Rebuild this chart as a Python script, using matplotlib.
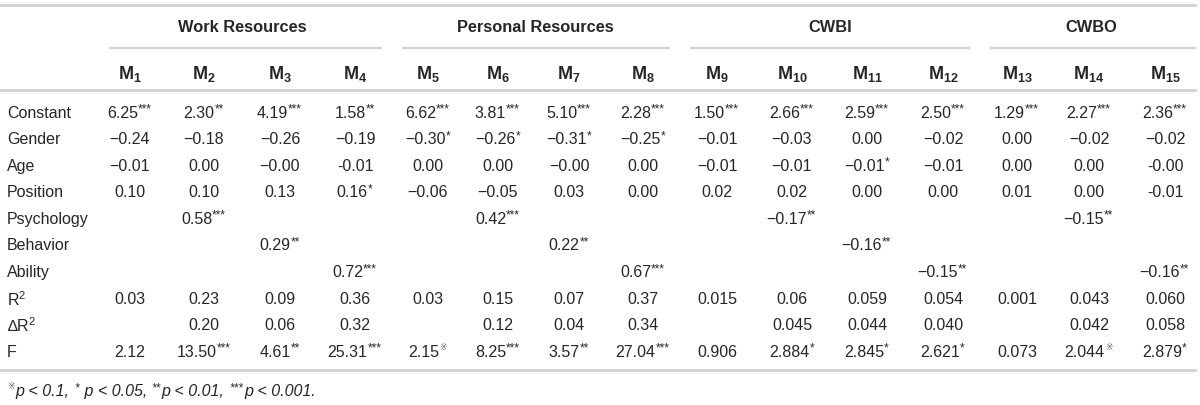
import matplotlib
matplotlib.use("Agg")
import matplotlib.pyplot as plt

plt.rcParams['font.family'] = ['Liberation Sans', 'DejaVu Sans']
plt.rcParams['mathtext.fontset'] = 'custom'
plt.rcParams['mathtext.rm'] = 'Liberation Sans'
plt.rcParams['mathtext.bf'] = 'Liberation Sans:bold'
plt.rcParams['mathtext.it'] = 'Liberation Sans:italic'

# table content
groups = ["Work Resources", "Personal Resources", "CWBI", "CWBO"]
group_cols = [(0, 3), (4, 7), (8, 11), (12, 14)]
models = list(range(1, 16))
row_labels = ["Constant", "Gender", "Age", "Position", "Psychology", "Behavior",
              "Ability", "R$^2$", "\u2206R$^2$", "F"]

constant = ["6.25***", "2.30**", "4.19***", "1.58**", "6.62***", "3.81***", "5.10***", "2.28***",
            "1.50***", "2.66***", "2.59***", "2.50***", "1.29***", "2.27***", "2.36***"]
gender = ["\u22120.24", "\u22120.18", "\u22120.26", "\u22120.19", "\u22120.30*", "\u22120.26*", "\u22120.31*", "\u22120.25*",
          "\u22120.01", "\u22120.03", "0.00", "\u22120.02", "0.00", "\u22120.02", "\u22120.02"]
age = ["\u22120.01", "0.00", "\u22120.00", "-0.01", "0.00", "0.00", "\u22120.00", "0.00",
       "\u22120.01", "\u22120.01", "\u22120.01*", "\u22120.01", "0.00", "0.00", "-0.00"]
position = ["0.10", "0.10", "0.13", "0.16*", "\u22120.06", "\u22120.05", "0.03", "0.00",
            "0.02", "0.02", "0.00", "0.00", "0.01", "0.00", "-0.01"]
psychology = ["", "0.58***", "", "", "", "0.42***", "", "",
              "", "\u22120.17**", "", "", "", "\u22120.15**", ""]
behavior = ["", "", "0.29**", "", "", "", "0.22**", "",
            "", "", "\u22120.16**", "", "", "", ""]
ability = ["", "", "", "0.72***", "", "", "", "0.67***",
           "", "", "", "\u22120.15**", "", "", "\u22120.16**"]
r2 = ["0.03", "0.23", "0.09", "0.36", "0.03", "0.15", "0.07", "0.37",
      "0.015", "0.06", "0.059", "0.054", "0.001", "0.043", "0.060"]
delta_r2 = ["", "0.20", "0.06", "0.32", "", "0.12", "0.04", "0.34",
            "", "0.045", "0.044", "0.040", "", "0.042", "0.058"]
f_stat = ["2.12", "13.50***", "4.61**", "25.31***", "2.15\u203b", "8.25***", "3.57**", "27.04***",
          "0.906", "2.884*", "2.845*", "2.621*", "0.073", "2.044\u203b", "2.879*"]
rows = [constant, gender, age, position, psychology, behavior, ability, r2, delta_r2, f_stat]

footnote = [("\u203b", True), ("p < 0.1, ", False), ("*", True), (" p < 0.05, ", False),
            ("**", True), ("p < 0.01, ", False), ("***", True), ("p < 0.001.", False)]

# layout (pixels)
col_x = [130, 204, 280, 355, 428, 498, 569, 643, 717, 792, 867, 943, 1017, 1089, 1165]
row_y0, row_dy = 113, 26.6
FS = 11.5
SUP = 8.5
TXT = '#262626'
LINE = '#d2d2d2'

fig = plt.figure(figsize=(12, 4.06), dpi=100)
ax = fig.add_axes([0, 0, 1, 1])
ax.set_xlim(0, 1200)
ax.set_ylim(406, 0)
ax.axis('off')
r = fig.canvas.get_renderer()


def draw_pieces(x, y, pieces, center=True, style='normal'):
    arts = []
    total = 0
    for s, sup in pieces:
        if sup and s == "\u203b":
            # reference mark is drawn smaller and higher than the stars
            t = ax.text(0, y - 5, s, fontsize=6.5, va='center', ha='left', color='#555555',
                        style='normal')
            w = t.get_window_extent(r).width + 1
        elif sup:
            t = ax.text(0, y - 3.5, s, fontsize=SUP, va='center', ha='left', color=TXT,
                        style=style)
            w = t.get_window_extent(r).width + 1
        else:
            t = ax.text(0, y, s, fontsize=FS, va='center', ha='left', color=TXT, style=style)
            w = t.get_window_extent(r).width
        arts.append((t, w))
        total += w
    x0 = x - total / 2 if center else x
    for t, w in arts:
        t.set_x(x0)
        x0 += w


def split_mark(s):
    base = s.rstrip("*\u203b")
    return base, s[len(base):]


# rules
ax.plot([0, 1195], [6, 6], color=LINE, lw=2)
ax.plot([0, 1195], [91, 91], color=LINE, lw=2)
ax.plot([0, 1195], [371, 371], color=LINE, lw=2)
for (a, b) in group_cols:
    x1 = col_x[a] - 20 if a == 0 else (col_x[a] + col_x[a - 1]) / 2 + 11
    x2 = 1195 if b == 14 else (col_x[b] + col_x[b + 1]) / 2 - 11
    ax.plot([x1, x2], [49, 49], color=LINE, lw=1.6)

# headers
for g, (a, b) in zip(groups, group_cols):
    ax.text((col_x[a] + col_x[b]) / 2, 27, g, fontsize=FS + 0.3, fontweight='bold',
            ha='center', va='center', color=TXT)
for m, x in zip(models, col_x):
    ax.text(x, 74, r"$\mathbf{M_{%d}}$" % m, fontsize=FS + 1.5, ha='center', va='center',
            color=TXT)

# body
for i, (lab, vals) in enumerate(zip(row_labels, rows)):
    y = row_y0 + i * row_dy
    ax.text(7, y, lab, fontsize=FS, ha='left', va='center', color=TXT)
    for x, v in zip(col_x, vals):
        if not v:
            continue
        base, mark = split_mark(v)
        pieces = [(base, False)]
        if mark:
            pieces.append((mark, True))
        draw_pieces(x, y, pieces)

draw_pieces(7, 392, footnote, center=False, style='italic')

fig.savefig("out.png", dpi=100)
